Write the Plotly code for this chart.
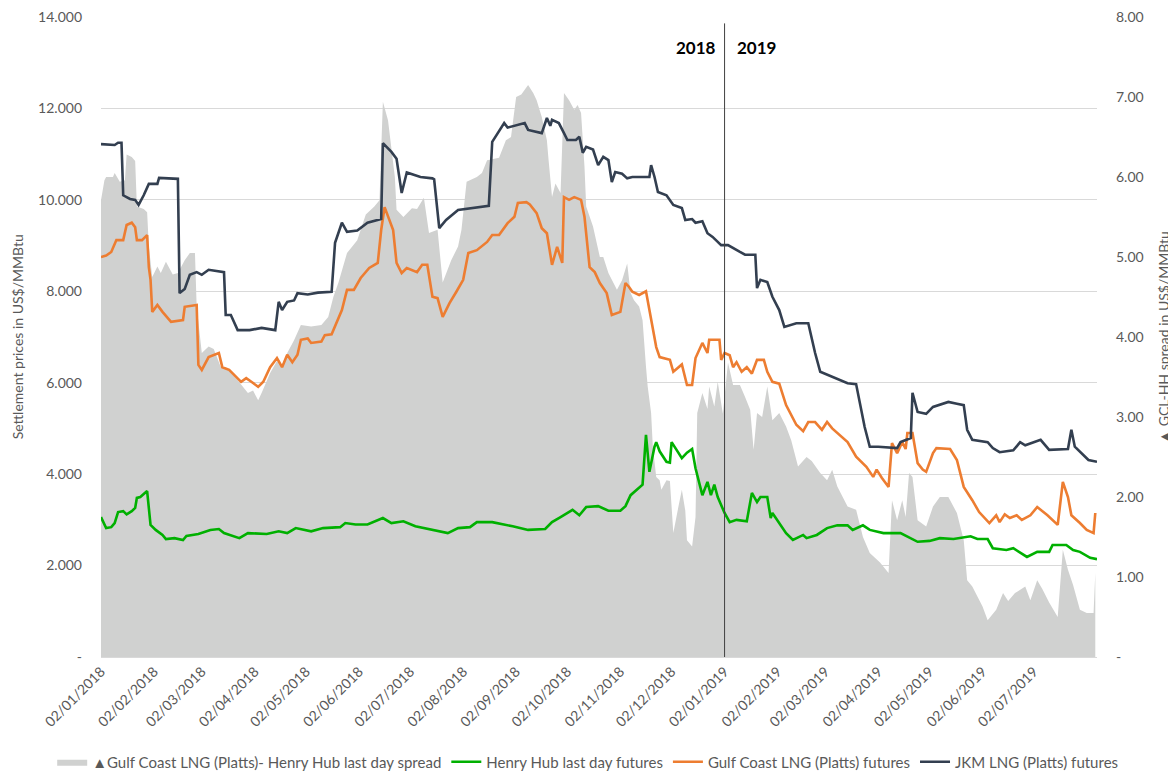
import plotly.graph_objects as go

# spread (right axis)
spread_dates = ["2018-01-02", "2018-01-04", "2018-01-05", "2018-01-09", "2018-01-10", "2018-01-13", "2018-01-16",
                "2018-01-17", "2018-01-20", "2018-01-22", "2018-01-23", "2018-01-27", "2018-01-29", "2018-01-30",
                "2018-02-01", "2018-02-04", "2018-02-06", "2018-02-09", "2018-02-13", "2018-02-16", "2018-02-20",
                "2018-02-23", "2018-02-26", "2018-02-27", "2018-03-02", "2018-03-06", "2018-03-09", "2018-03-13",
                "2018-03-17", "2018-03-23", "2018-03-29", "2018-04-01", "2018-04-04", "2018-04-06", "2018-04-11",
                "2018-04-15", "2018-04-18", "2018-04-21", "2018-04-25", "2018-04-29", "2018-05-05", "2018-05-11",
                "2018-05-15", "2018-05-18", "2018-05-21", "2018-05-23", "2018-05-26", "2018-06-01", "2018-06-06",
                "2018-06-11", "2018-06-14", "2018-06-16", "2018-06-19", "2018-06-23", "2018-06-24", "2018-06-28",
                "2018-07-03", "2018-07-06", "2018-07-10", "2018-07-13", "2018-07-18", "2018-07-21", "2018-07-26",
                "2018-07-30", "2018-08-01", "2018-08-04", "2018-08-10", "2018-08-13", "2018-08-16", "2018-08-23",
                "2018-08-27", "2018-08-30", "2018-09-02", "2018-09-05", "2018-09-09", "2018-09-12", "2018-09-14",
                "2018-09-17", "2018-09-20", "2018-09-21", "2018-09-23", "2018-09-25", "2018-09-28", "2018-09-30",
                "2018-10-03", "2018-10-06", "2018-10-08", "2018-10-10", "2018-10-12", "2018-10-13", "2018-10-17",
                "2018-10-21", "2018-10-23", "2018-10-26", "2018-10-31", "2018-11-03", "2018-11-06", "2018-11-08",
                "2018-11-10", "2018-11-13", "2018-11-15", "2018-11-17", "2018-11-18", "2018-11-20", "2018-11-21",
                "2018-11-23", "2018-11-25", "2018-11-26", "2018-11-29", "2018-12-01", "2018-12-03", "2018-12-06",
                "2018-12-08", "2018-12-10", "2018-12-11", "2018-12-14", "2018-12-16", "2018-12-17", "2018-12-20",
                "2018-12-23", "2018-12-24", "2018-12-27", "2018-12-29", "2019-01-01", "2019-01-04", "2019-01-07",
                "2019-01-11", "2019-01-14", "2019-01-17", "2019-01-19", "2019-01-21", "2019-01-24", "2019-01-27",
                "2019-01-30", "2019-02-03", "2019-02-07", "2019-02-10", "2019-02-14", "2019-02-19", "2019-02-22",
                "2019-02-27", "2019-03-03", "2019-03-06", "2019-03-09", "2019-03-15", "2019-03-20", "2019-03-24",
                "2019-03-28", "2019-04-03", "2019-04-08", "2019-04-10", "2019-04-13", "2019-04-16", "2019-04-18",
                "2019-04-20", "2019-04-22", "2019-04-25", "2019-04-30", "2019-05-04", "2019-05-08", "2019-05-13",
                "2019-05-18", "2019-05-22", "2019-05-24", "2019-05-27", "2019-06-02", "2019-06-05", "2019-06-10",
                "2019-06-14", "2019-06-17", "2019-06-21", "2019-06-27", "2019-06-30", "2019-07-04", "2019-07-07",
                "2019-07-11", "2019-07-16", "2019-07-19", "2019-07-22", "2019-07-25", "2019-07-29", "2019-08-02",
                "2019-08-06", "2019-08-07"]
spread = [5.71, 5.96, 6.0, 6.0, 6.05, 5.94, 5.96,
          6.28, 6.25, 6.2, 5.63, 5.6, 5.56, 5.13,
          4.75, 4.88, 4.8, 4.94, 4.78, 4.8, 4.96,
          5.05, 5.05, 4.38, 3.8, 3.88, 3.85, 3.63,
          3.6, 3.46, 3.3, 3.33, 3.21, 3.3, 3.55,
          3.7, 3.65, 3.8, 3.96, 4.15, 4.13, 4.15,
          4.25, 4.5, 4.68, 4.84, 5.05, 5.21, 5.53,
          5.63, 5.71, 6.94, 6.71, 6.0, 5.59, 5.5,
          5.61, 5.6, 5.74, 5.3, 5.34, 4.68, 4.96,
          5.13, 5.34, 5.94, 6.0, 6.05, 6.21, 6.24,
          6.46, 6.5, 7.0, 7.03, 7.15, 7.05, 6.96,
          6.75, 6.46, 6.21, 5.75, 5.92, 5.8, 7.05,
          6.96, 6.84, 6.9, 6.8, 6.13, 5.63, 5.38,
          5.0, 5.0, 4.8, 4.59, 4.71, 4.92, 4.55,
          4.46, 4.38, 4.21, 3.63, 3.38, 3.05, 2.63,
          2.25, 2.21, 2.09, 2.21, 2.2, 1.55, 1.88,
          2.09, 1.83, 1.46, 1.38, 1.75, 3.05, 3.3,
          3.1, 3.38, 3.13, 3.44, 3.04, 3.68, 3.4,
          3.4, 3.25, 3.09, 2.59, 3.05, 3.0, 3.38,
          2.96, 3.05, 2.88, 2.71, 2.38, 2.5, 2.45,
          2.3, 2.21, 2.34, 2.13, 1.88, 1.84, 1.5,
          1.3, 1.18, 1.05, 1.96, 1.71, 1.96, 1.75,
          2.3, 2.25, 1.71, 1.63, 1.88, 2.0, 2.0,
          1.8, 1.46, 0.96, 0.88, 0.63, 0.46, 0.59,
          0.8, 0.7, 0.8, 0.88, 0.71, 0.96, 0.85,
          0.68, 0.5, 1.34, 1.09, 0.9, 0.59, 0.55,
          0.55, 1.05]

# Henry Hub last day futures
hh_dates = ["2018-01-02", "2018-01-05", "2018-01-08", "2018-01-10", "2018-01-12", "2018-01-15", "2018-01-17",
            "2018-01-20", "2018-01-22", "2018-01-23", "2018-01-25", "2018-01-29", "2018-01-31", "2018-02-03",
            "2018-02-07", "2018-02-09", "2018-02-14", "2018-02-19", "2018-02-21", "2018-02-28", "2018-03-07",
            "2018-03-12", "2018-03-15", "2018-03-24", "2018-03-29", "2018-04-09", "2018-04-16", "2018-04-21",
            "2018-04-26", "2018-05-05", "2018-05-12", "2018-05-22", "2018-05-25", "2018-05-31", "2018-06-07",
            "2018-06-16", "2018-06-21", "2018-06-28", "2018-07-05", "2018-07-15", "2018-07-19", "2018-07-24",
            "2018-07-30", "2018-08-06", "2018-08-10", "2018-08-19", "2018-08-31", "2018-09-09", "2018-09-19",
            "2018-09-23", "2018-09-28", "2018-10-05", "2018-10-09", "2018-10-13", "2018-10-20", "2018-10-26",
            "2018-11-02", "2018-11-05", "2018-11-08", "2018-11-13", "2018-11-15", "2018-11-17", "2018-11-19",
            "2018-11-22", "2018-11-23", "2018-11-25", "2018-11-29", "2018-12-01", "2018-12-02", "2018-12-08",
            "2018-12-11", "2018-12-14", "2018-12-16", "2018-12-20", "2018-12-23", "2018-12-25", "2018-12-27",
            "2018-12-29", "2019-01-02", "2019-01-05", "2019-01-09", "2019-01-15", "2019-01-18", "2019-01-21",
            "2019-01-23", "2019-01-27", "2019-01-29", "2019-01-30", "2019-02-03", "2019-02-07", "2019-02-11",
            "2019-02-17", "2019-02-19", "2019-02-25", "2019-03-03", "2019-03-09", "2019-03-15", "2019-03-18",
            "2019-03-24", "2019-03-28", "2019-04-05", "2019-04-15", "2019-04-25", "2019-05-02", "2019-05-08",
            "2019-05-16", "2019-05-26", "2019-05-30", "2019-06-05", "2019-06-08", "2019-06-16", "2019-06-20",
            "2019-06-28", "2019-07-04", "2019-07-11", "2019-07-13", "2019-07-21", "2019-07-25", "2019-07-29",
            "2019-08-04", "2019-08-08"]
hh = [3.06, 2.82, 2.84, 2.93, 3.17, 3.19, 3.12,
      3.19, 3.26, 3.48, 3.5, 3.63, 2.89, 2.78,
      2.67, 2.58, 2.6, 2.56, 2.65, 2.69, 2.78,
      2.8, 2.71, 2.6, 2.71, 2.69, 2.75, 2.71,
      2.82, 2.75, 2.82, 2.84, 2.93, 2.9, 2.9,
      3.04, 2.93, 2.97, 2.86, 2.78, 2.75, 2.71,
      2.82, 2.84, 2.95, 2.95, 2.86, 2.78, 2.8,
      2.95, 3.06, 3.22, 3.1, 3.28, 3.3, 3.2,
      3.2, 3.3, 3.54, 3.72, 3.77, 4.86, 4.05,
      4.6, 4.7, 4.5, 4.27, 4.25, 4.7, 4.35,
      4.47, 4.55, 4.13, 3.54, 3.83, 3.54, 3.77,
      3.5, 3.15, 2.95, 3.0, 2.97, 3.59, 3.39,
      3.5, 3.5, 3.04, 3.15, 2.93, 2.71, 2.56,
      2.67, 2.6, 2.67, 2.82, 2.88, 2.88, 2.78,
      2.88, 2.78, 2.71, 2.71, 2.52, 2.54, 2.6,
      2.58, 2.64, 2.58, 2.58, 2.38, 2.34, 2.38,
      2.19, 2.3, 2.3, 2.45, 2.45, 2.34, 2.3,
      2.17, 2.14]

# Gulf Coast LNG (Platts) futures
gcl_dates = ["2018-01-02", "2018-01-05", "2018-01-08", "2018-01-11", "2018-01-15", "2018-01-17", "2018-01-20",
             "2018-01-22", "2018-01-23", "2018-01-26", "2018-01-29", "2018-01-30", "2018-01-31", "2018-02-01",
             "2018-02-04", "2018-02-07", "2018-02-12", "2018-02-19", "2018-02-20", "2018-02-26", "2018-02-27",
             "2018-02-28", "2018-03-02", "2018-03-06", "2018-03-12", "2018-03-14", "2018-03-18", "2018-03-25",
             "2018-03-28", "2018-03-31", "2018-04-04", "2018-04-07", "2018-04-11", "2018-04-15", "2018-04-18",
             "2018-04-21", "2018-04-24", "2018-04-27", "2018-04-29", "2018-05-03", "2018-05-05", "2018-05-11",
             "2018-05-13", "2018-05-17", "2018-05-23", "2018-05-26", "2018-05-30", "2018-06-03", "2018-06-08",
             "2018-06-13", "2018-06-15", "2018-06-17", "2018-06-22", "2018-06-24", "2018-06-27", "2018-06-30",
             "2018-07-06", "2018-07-09", "2018-07-12", "2018-07-15", "2018-07-18", "2018-07-21", "2018-07-25",
             "2018-07-29", "2018-08-02", "2018-08-05", "2018-08-10", "2018-08-16", "2018-08-19", "2018-08-23",
             "2018-08-28", "2018-09-01", "2018-09-03", "2018-09-08", "2018-09-10", "2018-09-14", "2018-09-17",
             "2018-09-20", "2018-09-23", "2018-09-26", "2018-09-29", "2018-09-30", "2018-10-03", "2018-10-06",
             "2018-10-10", "2018-10-12", "2018-10-15", "2018-10-18", "2018-10-21", "2018-10-25", "2018-10-28",
             "2018-11-02", "2018-11-05", "2018-11-07", "2018-11-09", "2018-11-13", "2018-11-17", "2018-11-23",
             "2018-11-25", "2018-12-01", "2018-12-03", "2018-12-08", "2018-12-11", "2018-12-14", "2018-12-16",
             "2018-12-20", "2018-12-23", "2018-12-24", "2018-12-30", "2018-12-31", "2019-01-02", "2019-01-05",
             "2019-01-07", "2019-01-09", "2019-01-12", "2019-01-15", "2019-01-18", "2019-01-21", "2019-01-25",
             "2019-01-27", "2019-01-30", "2019-02-03", "2019-02-07", "2019-02-13", "2019-02-17", "2019-02-20",
             "2019-02-24", "2019-02-28", "2019-03-03", "2019-03-06", "2019-03-15", "2019-03-20", "2019-03-26",
             "2019-03-30", "2019-04-01", "2019-04-04", "2019-04-08", "2019-04-10", "2019-04-13", "2019-04-16",
             "2019-04-18", "2019-04-19", "2019-04-22", "2019-04-25", "2019-04-28", "2019-04-30", "2019-05-04",
             "2019-05-06", "2019-05-14", "2019-05-18", "2019-05-22", "2019-05-27", "2019-05-31", "2019-06-06",
             "2019-06-10", "2019-06-12", "2019-06-15", "2019-06-18", "2019-06-22", "2019-06-25", "2019-06-30",
             "2019-07-04", "2019-07-10", "2019-07-16", "2019-07-19", "2019-07-22", "2019-07-24", "2019-07-29",
             "2019-08-02", "2019-08-06", "2019-08-07"]
gcl = [8.75, 8.78, 8.86, 9.12, 9.12, 9.45, 9.5,
       9.4, 9.12, 9.12, 9.23, 8.53, 8.25, 7.55,
       7.7, 7.55, 7.33, 7.37, 7.66, 7.7, 7.7,
       6.39, 6.28, 6.56, 6.65, 6.34, 6.28, 6.02,
       6.1, 6.02, 5.91, 6.02, 6.34, 6.54, 6.34,
       6.61, 6.45, 6.61, 6.94, 6.97, 6.87, 6.9,
       7.04, 7.06, 7.59, 8.03, 8.03, 8.29, 8.51,
       8.62, 9.34, 9.84, 9.34, 8.62, 8.4, 8.51,
       8.42, 8.58, 8.58, 7.88, 7.85, 7.44, 7.74,
       7.99, 8.25, 8.84, 8.9, 9.08, 9.23, 9.23,
       9.49, 9.63, 9.93, 9.95, 9.9, 9.71, 9.38,
       9.27, 8.58, 8.97, 8.62, 10.06, 10.0, 10.06,
       10.0, 9.63, 8.53, 8.42, 8.18, 7.96, 7.48,
       7.55, 8.18, 8.1, 7.99, 7.92, 8.0, 6.78,
       6.56, 6.5, 6.24, 6.4, 5.95, 5.95, 6.54,
       6.87, 6.65, 6.94, 6.94, 6.5, 6.65, 6.6,
       6.34, 6.45, 6.24, 6.34, 6.2, 6.5, 6.5,
       6.24, 6.02, 5.98, 5.51, 5.08, 4.94, 5.14,
       5.14, 4.97, 5.14, 5.0, 4.7, 4.38, 4.16,
       3.94, 4.1, 3.92, 3.72, 4.68, 4.46, 4.7,
       4.55, 4.9, 4.9, 4.24, 4.1, 4.05, 4.46,
       4.57, 4.55, 4.31, 3.72, 3.43, 3.17, 2.93,
       3.1, 2.95, 3.12, 3.04, 3.1, 3.0, 3.1,
       3.28, 3.1, 2.89, 3.83, 3.5, 3.1, 2.93,
       2.78, 2.71, 3.15]

# JKM LNG (Platts) futures
jkm_dates = ["2018-01-02", "2018-01-10", "2018-01-12", "2018-01-14", "2018-01-15", "2018-01-19", "2018-01-22",
             "2018-01-24", "2018-01-27", "2018-01-30", "2018-02-04", "2018-02-05", "2018-02-16", "2018-02-17",
             "2018-02-20", "2018-02-23", "2018-02-27", "2018-03-02", "2018-03-06", "2018-03-15", "2018-03-16",
             "2018-03-19", "2018-03-23", "2018-03-30", "2018-04-06", "2018-04-14", "2018-04-16", "2018-04-18",
             "2018-04-21", "2018-04-25", "2018-04-27", "2018-05-03", "2018-05-09", "2018-05-15", "2018-05-17",
             "2018-05-19", "2018-05-23", "2018-05-26", "2018-06-01", "2018-06-07", "2018-06-15", "2018-06-16",
             "2018-06-21", "2018-06-24", "2018-06-27", "2018-06-30", "2018-07-08", "2018-07-15", "2018-07-16",
             "2018-07-19", "2018-07-23", "2018-07-30", "2018-08-06", "2018-08-17", "2018-08-19", "2018-08-26",
             "2018-08-28", "2018-09-07", "2018-09-09", "2018-09-17", "2018-09-20", "2018-09-22", "2018-09-23",
             "2018-09-27", "2018-09-30", "2018-10-02", "2018-10-07", "2018-10-09", "2018-10-11", "2018-10-13",
             "2018-10-17", "2018-10-20", "2018-10-23", "2018-10-26", "2018-10-28", "2018-10-30", "2018-11-03",
             "2018-11-06", "2018-11-09", "2018-11-19", "2018-11-20", "2018-11-22", "2018-11-24", "2018-11-29",
             "2018-12-03", "2018-12-08", "2018-12-10", "2018-12-14", "2018-12-16", "2018-12-20", "2018-12-23",
             "2018-12-26", "2018-12-31", "2019-01-04", "2019-01-11", "2019-01-14", "2019-01-20", "2019-01-21",
             "2019-01-23", "2019-01-27", "2019-01-30", "2019-02-03", "2019-02-06", "2019-02-13", "2019-02-20",
             "2019-02-24", "2019-02-27", "2019-03-06", "2019-03-15", "2019-03-20", "2019-03-25", "2019-03-28",
             "2019-04-02", "2019-04-13", "2019-04-15", "2019-04-21", "2019-04-22", "2019-04-25", "2019-04-30",
             "2019-05-04", "2019-05-13", "2019-05-18", "2019-05-22", "2019-05-24", "2019-05-27", "2019-06-05",
             "2019-06-08", "2019-06-12", "2019-06-20", "2019-06-24", "2019-06-27", "2019-07-06", "2019-07-11",
             "2019-07-22", "2019-07-24", "2019-07-26", "2019-07-31", "2019-08-03", "2019-08-08"]
jkm = [11.22, 11.2, 11.25, 11.25, 10.1, 10.02, 10.0,
       9.89, 10.1, 10.35, 10.35, 10.48, 10.46, 7.96,
       8.05, 8.36, 8.42, 8.36, 8.47, 8.42, 7.48,
       7.48, 7.15, 7.15, 7.2, 7.15, 7.77, 7.59,
       7.77, 7.8, 7.96, 7.93, 7.97, 7.99, 7.99,
       9.06, 9.5, 9.3, 9.33, 9.5, 9.58, 11.24,
       11.05, 10.9, 10.15, 10.6, 10.5, 10.47, 10.45,
       9.38, 9.56, 9.78, 9.82, 9.87, 11.27, 11.68,
       11.58, 11.68, 11.53, 11.46, 11.79, 11.62, 11.75,
       11.68, 11.46, 11.31, 11.31, 11.38, 11.03, 11.16,
       11.1, 10.76, 10.94, 10.87, 10.39, 10.61, 10.57,
       10.47, 10.5, 10.5, 10.76, 10.5, 10.17, 10.1,
       9.89, 9.82, 9.56, 9.58, 9.5, 9.53, 9.27,
       9.19, 9.01, 9.01, 8.86, 8.8, 8.8, 8.07,
       8.25, 8.2, 7.88, 7.59, 7.22, 7.3, 7.3,
       6.65, 6.24, 6.13, 5.99, 5.97, 5.03, 4.6,
       4.6, 4.57, 4.7, 4.79, 5.78, 5.36, 5.32,
       5.47, 5.58, 5.54, 5.51, 4.97, 4.75, 4.7,
       4.57, 4.48, 4.52, 4.7, 4.63, 4.75, 4.53,
       4.55, 4.97, 4.6, 4.42, 4.31, 4.27]

month_ticks = ["2018-01-02", "2018-02-02", "2018-03-02", "2018-04-02", "2018-05-02", "2018-06-02",
               "2018-07-02", "2018-08-02", "2018-09-02", "2018-10-02", "2018-11-02", "2018-12-02",
               "2019-01-02", "2019-02-02", "2019-03-02", "2019-04-02", "2019-05-02", "2019-06-02",
               "2019-07-02"]
left_ticks = [0, 2, 4, 6, 8, 10, 12, 14]
left_labels = ["-", "2.000", "4.000", "6.000", "8.000", "10.000", "12.000", "14.000"]
right_ticks = [0, 1, 2, 3, 4, 5, 6, 7, 8]
right_labels = ["-", "1.00", "2.00", "3.00", "4.00", "5.00", "6.00", "7.00", "8.00"]

FONT = "Lato, 'Open Sans', sans-serif"
GREY_TXT = "#595959"

fig = go.Figure()
fig.add_trace(go.Scatter(x=spread_dates, y=spread, yaxis="y", mode="lines", fill="tozeroy",
                         fillcolor="#d0d1d0", line=dict(width=0, color="#d0d1d0"),
                         name="▲Gulf Coast LNG (Platts)- Henry Hub last day spread"))
fig.add_trace(go.Scatter(x=hh_dates, y=hh, yaxis="y2", mode="lines",
                         line=dict(color="#00b000", width=2.6), name="Henry Hub last day futures"))
fig.add_trace(go.Scatter(x=gcl_dates, y=gcl, yaxis="y2", mode="lines",
                         line=dict(color="#ed7d31", width=2.6), name="Gulf Coast LNG (Platts) futures"))
fig.add_trace(go.Scatter(x=jkm_dates, y=jkm, yaxis="y2", mode="lines",
                         line=dict(color="#333f50", width=2.6), name="JKM LNG (Platts) futures"))

fig.add_shape(type="line", x0="2019-01-02", x1="2019-01-02", xref="x", yref="paper", y0=0, y1=0.99,
              line=dict(color="#404040", width=1))
fig.add_annotation(x="2019-01-02", y=0.952, xref="x", yref="paper", text="<b>2018</b>", showarrow=False,
                   xanchor="right", yanchor="middle", xshift=-7, font=dict(size=17, color="#000000", family=FONT))
fig.add_annotation(x="2019-01-02", y=0.952, xref="x", yref="paper", text="<b>2019</b>", showarrow=False,
                   xanchor="left", yanchor="middle", xshift=10, font=dict(size=17, color="#000000", family=FONT))
fig.add_annotation(x=-0.084, y=0.5, xref="paper", yref="paper", text="Settlement prices in US$/MMBtu",
                   showarrow=False, textangle=-90, xanchor="center", yanchor="middle",
                   font=dict(size=14, color=GREY_TXT, family=FONT))
fig.add_annotation(x=1.066, y=0.5, xref="paper", yref="paper", text="▲ GCL-HH spread in US$/MMBtu",
                   showarrow=False, textangle=-90, xanchor="center", yanchor="middle",
                   font=dict(size=14, color=GREY_TXT, family=FONT))

# page body has an 8px margin, so the figure is sized to fill the window from there
fig.update_layout(
    width=1168, height=763,
    margin=dict(l=93, r=79, t=9, b=114, autoexpand=False),
    paper_bgcolor="white", plot_bgcolor="white",
    font=dict(family=FONT, size=14, color=GREY_TXT),
    showlegend=True,
    legend=dict(orientation="h", x=-0.049, xanchor="left", y=-0.164, yanchor="middle",
                font=dict(size=15, color=GREY_TXT), tracegroupgap=0),
    xaxis=dict(type="date", range=["2018-01-02", "2019-08-08"], tickvals=month_ticks,
               tickformat="%d/%m/%Y", tickangle=-45, showgrid=False, showline=True, linecolor="#d9d9d9",
               ticks="", tickfont=dict(size=14, color=GREY_TXT), ticklabeloverflow="allow"),
    yaxis=dict(side="right", range=[0, 8], tickvals=right_ticks, ticktext=right_labels,
               showgrid=False, zeroline=False, showline=False, ticklabelstandoff=18,
               ticklabeloverflow="allow", tickfont=dict(size=14, color=GREY_TXT)),
    yaxis2=dict(side="left", overlaying="y", range=[0, 14], tickvals=left_ticks, ticktext=left_labels,
                showgrid=True, gridcolor="#d9d9d9", zeroline=False, showline=False, ticklabelstandoff=18,
                ticklabeloverflow="allow", tickfont=dict(size=14, color=GREY_TXT)),
)

fig.write_html("out.html")
